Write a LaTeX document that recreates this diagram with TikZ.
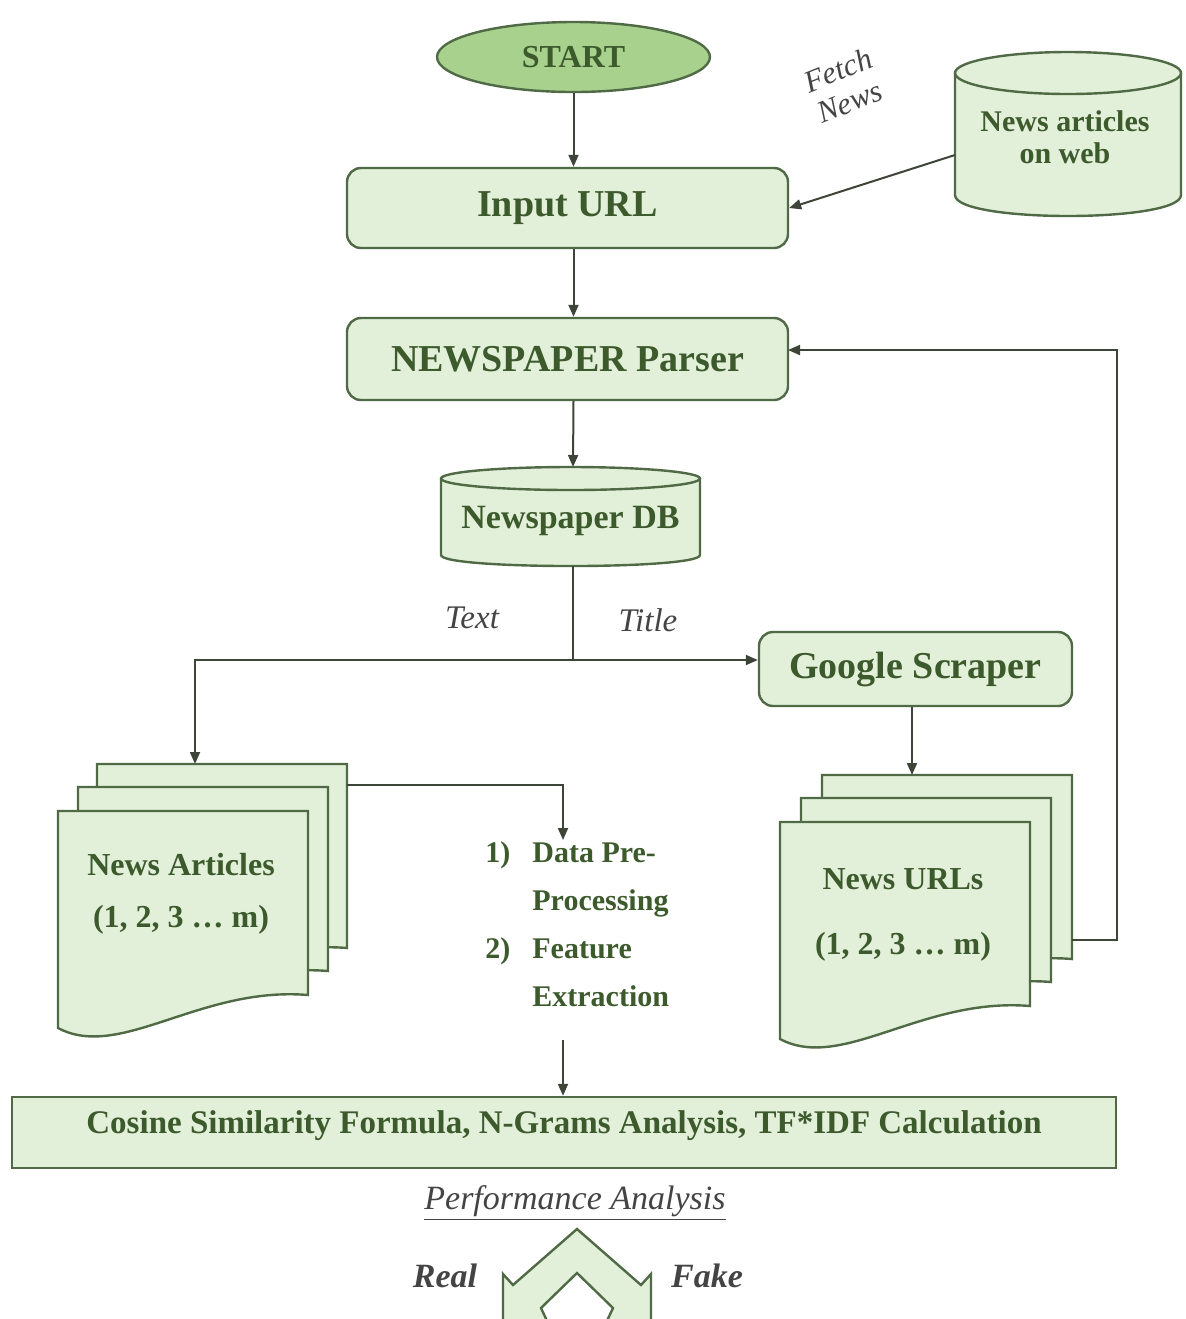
\documentclass[tikz,border=0pt]{standalone}
\usepackage{fontspec}
\setmainfont{Liberation Serif}
\usetikzlibrary{arrows.meta,shapes.geometric,calc}
\definecolor{boxfill}{HTML}{E2EFD9}
\definecolor{startfill}{HTML}{A9D18E}
\definecolor{edge}{HTML}{4F6A45}
\definecolor{ink}{HTML}{3C5A2C}
\definecolor{wire}{HTML}{3D4539}
\definecolor{labelgrey}{HTML}{444444}
\newcommand\docsheet[2]{%
  \filldraw[sheet] (#1,#2) -- (#1+250,#2) -- (#1+250,#2+184)
    .. controls (#1+142,#2+175) and (#1+62,#2+250) .. (#1,#2+217) -- cycle;}
\begin{document}
\begin{tikzpicture}[x=0.5pt,y=-0.5pt,
  box/.style={draw=edge, fill=boxfill, line width=1.2pt, rounded corners=7pt,
    text=ink, font=\fontsize{19}{22}\selectfont\bfseries, inner sep=0pt},
  sheet/.style={draw=edge, fill=boxfill, line width=1.2pt},
  arr/.style={draw=wire, line width=1pt, -{Triangle[length=6pt,width=5pt]}},
  wireline/.style={draw=wire, line width=1pt},
  lbl/.style={text=labelgrey, font=\fontsize{16.5}{20}\selectfont\itshape, inner sep=0pt},
  txt/.style={text=ink, inner sep=0pt, align=center}]
\useasboundingbox (0,0) rectangle (1186,1319);

% START
\node[ellipse, draw=edge, fill=startfill, line width=1.2pt, minimum width=136.5pt,
  minimum height=35pt, inner sep=0pt, text=ink,
  font=\fontsize{16}{19}\selectfont\bfseries] (start) at (573.5,57) {START};

% Input URL and Parser
\node[box, minimum width=220.5pt, minimum height=40pt] (input) at (567.5,208) {Input URL};
\node[box, minimum width=220.5pt, minimum height=41pt] (parser) at (567.5,359) {NEWSPAPER Parser};

% web cylinder
\fill[boxfill] (955,73) -- (955,195) .. controls (955,223) and (1181,223) .. (1181,195) -- (1181,73) -- cycle;
\draw[edge, line width=1.2pt] (955,73) -- (955,195) .. controls (955,223) and (1181,223) .. (1181,195) -- (1181,73);
\filldraw[fill=boxfill, draw=edge, line width=1.2pt] (1068,73) ellipse [x radius=56.5pt, y radius=10.5pt];
\node[txt, font=\fontsize{15}{16}\selectfont\bfseries] (web) at (1065,137) {News articles\\on web};
\coordinate (webl) at (955,155);
\node[lbl, rotate=22, font=\fontsize{15.5}{16}\selectfont\itshape] (fetch) at (838,70) {Fetch};
\node[lbl, rotate=22, font=\fontsize{15.5}{16}\selectfont\itshape] (news) at (850,102) {News};
\draw[arr] (webl) -- (input.east);

% arrows down the spine
\draw[arr] (start.south) -- (start.south |- input.north);
\draw[arr] (input.south -| start.south) -- (parser.north -| start.south);
\coordinate (dbtop) at (573,467);
\draw[arr] (parser.south -| start.south) -- (dbtop);

% Newspaper DB cylinder
\fill[boxfill] (441,478.5) -- (441,555) .. controls (441,569.7) and (700,569.7) .. (700,555) -- (700,478.5) -- cycle;
\draw[edge, line width=1.2pt] (441,478.5) -- (441,555) .. controls (441,569.7) and (700,569.7) .. (700,555) -- (700,478.5);
\filldraw[fill=boxfill, draw=edge, line width=1.2pt] (570.5,478.5) ellipse [x radius=64.75pt, y radius=5.75pt];
\node[txt, font=\fontsize{17}{20}\selectfont\bfseries] (db) at (570.5,521) {Newspaper DB};

% Google Scraper
\node[box, minimum width=156.5pt, minimum height=37pt] (gs) at (915.5,669) {Google Scraper};

% split
\coordinate (dbbot) at (573,566);
\coordinate (split) at (573,660);
\coordinate (artin) at (195,764);
\draw[wireline] (dbbot) -- (split);
\draw[arr] (split) -- (split -| gs.west);
\draw[arr] (split) -| (artin);
\node[lbl] (textlbl) at (472,618) {Text};
\node[lbl] (titlelbl) at (648,620) {Title};

% document stacks
\docsheet{97}{764}
\docsheet{78}{787}
\docsheet{58}{811}
\docsheet{822}{775}
\docsheet{801}{798}
\docsheet{780}{822}
\node[txt, font=\fontsize{16}{26}\selectfont\bfseries] (arts) at (181,894) {News Articles\\(1, 2, 3 … m)};
\node[txt, font=\fontsize{16}{32.5}\selectfont\bfseries] (urls) at (903,915) {News URLs\\(1, 2, 3 … m)};

\coordinate (urlin) at (912,775);
\draw[arr] (gs.south -| urlin) -- (urlin);

% feedback loop
\coordinate (urlr) at (1072,940);
\coordinate (parserin) at (788,350);
\draw[arr] (urlr) -- (1117,940) -- (1117,350) -- (parserin);

% processing list
\coordinate (artout) at (347,785);
\coordinate (listin) at (563,840);
\draw[arr] (artout) -| (listin);
\node[anchor=base west, inner sep=0pt, text=ink, font=\fontsize{15}{24}\selectfont\bfseries] (list) at (485,862)
  {\begin{tabular}[t]{@{}l@{\hspace{11pt}}l@{}}1) & Data Pre-\\ & Processing\\ 2) & Feature\\ & Extraction\end{tabular}};

% cosine box
\node[draw=edge, fill=boxfill, line width=1.2pt, minimum width=552pt, minimum height=35.5pt,
  text=ink, font=\fontsize{16.5}{20}\selectfont\bfseries, inner sep=0pt] (cosine) at (564,1132.5)
  {\raisebox{10pt}{Cosine Similarity Formula, N-Grams Analysis, TF*IDF Calculation}};
\coordinate (listout) at (563,1040);
\draw[arr] (listout) -- (listout |- cosine.north);

% performance analysis
\node[inner sep=0pt, text=labelgrey, font=\fontsize{17}{20}\selectfont\itshape] (perf) at (575,1203) {\underline{Performance Analysis}};
\begin{scope}
\clip (0,0) rectangle (1186,1319);
\filldraw[fill=boxfill, draw=edge, line width=1.2pt] (503,1340) -- (503,1274) -- (513,1285) -- (577,1229)
  -- (641,1285) -- (651,1274) -- (651,1340) -- (598,1340) -- (613,1308) -- (577,1273)
  -- (541,1308) -- (556,1340) -- cycle;
\end{scope}
\node[inner sep=0pt, text=labelgrey, font=\fontsize{17}{20}\selectfont\bfseries\itshape] (real) at (445,1276) {Real};
\node[inner sep=0pt, text=labelgrey, font=\fontsize{17}{20}\selectfont\bfseries\itshape] (fake) at (707,1276) {Fake};
\end{tikzpicture}
\end{document}
